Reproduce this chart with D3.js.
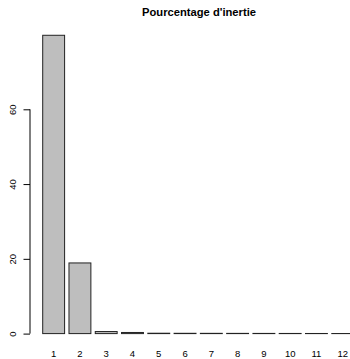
<!DOCTYPE html>
<html>
<head>
<meta charset="utf-8">
<script src="https://cdn.jsdelivr.net/npm/d3@7"></script>
<style>
  html, body { margin: 0; padding: 0; background: #fff; }
  svg { display: block; font-family: "Liberation Sans", Arial, Helvetica, sans-serif; }
</style>
</head>
<body>
<svg id="chart" width="350" height="359"></svg>
<script>
// Percentage of inertia explained by each axis
const categories = ["1", "2", "3", "4", "5", "6", "7", "8", "9", "10", "11", "12"];
const values = [79.8, 18.9, 0.55, 0.3, 0.1, 0.08, 0.07, 0.06, 0.05, 0.04, 0.03, 0.02];
const yTicks = [0, 20, 40, 60];
const title = "Pourcentage d'inertie";

const svg = d3.select("#chart");

// barplot-style layout: bar width 1, gap 0.2 in user units
const barWidth = 1, space = 0.2;
const x = d3.scaleLinear().domain([0.2, 1.2]).range([42.7, 64.6]);
const y = d3.scaleLinear().domain([0, 60]).range([333.6, 109.3]);

const bars = categories.map((c, i) => ({
  label: c,
  value: values[i],
  left: space + i * (barWidth + space),
  right: space + i * (barWidth + space) + barWidth
}));

svg.append("g")
  .selectAll("rect")
  .data(bars)
  .join("rect")
  .attr("x", d => x(d.left))
  .attr("y", d => y(d.value))
  .attr("width", d => x(d.right) - x(d.left))
  .attr("height", d => y(0) - y(d.value))
  .attr("fill", "#bebebe")
  .attr("stroke", "#222")
  .attr("stroke-width", 1);

// category labels under the bars
svg.append("g")
  .selectAll("text")
  .data(bars)
  .join("text")
  .attr("x", d => x((d.left + d.right) / 2))
  .attr("y", 357)
  .attr("text-anchor", "middle")
  .attr("font-size", 9.5)
  .attr("fill", "#000")
  .text(d => d.label);

// left axis
const axisX = 30;
const yAxis = d3.axisLeft(y).tickValues(yTicks).tickSize(6.5).tickPadding(7);
const gy = svg.append("g")
  .attr("transform", `translate(${axisX},0)`)
  .call(yAxis);
gy.select(".domain")
  .attr("d", `M0,${y(0)}V${y(60)}`)
  .attr("stroke", "#000");
gy.selectAll(".tick line").attr("stroke", "#000");
gy.selectAll(".tick text")
  .attr("font-size", 9.5)
  .attr("fill", "#000")
  .attr("font-family", "\"Liberation Sans\", Arial, sans-serif")
  .attr("text-anchor", "middle")
  .attr("dy", null)
  .attr("x", null)
  .attr("transform", "translate(-14,0) rotate(-90)");

// title
svg.append("text")
  .attr("x", 199)
  .attr("y", 15.5)
  .attr("text-anchor", "middle")
  .attr("font-size", 11.2)
  .attr("font-weight", "bold")
  .attr("fill", "#000")
  .text(title);
</script>
</body>
</html>
